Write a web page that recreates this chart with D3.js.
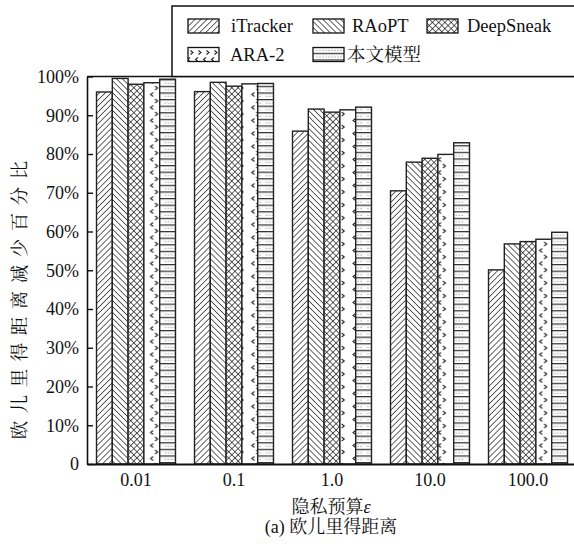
<!DOCTYPE html>
<html>
<head>
<meta charset="utf-8">
<script src="https://cdn.jsdelivr.net/npm/d3@7"></script>
<style>
  html, body { margin: 0; padding: 0; background: #fff; }
  svg { display: block; }
  svg text { font-family: "Liberation Serif", "Noto Serif CJK SC", "Noto Sans CJK SC", serif !important; fill: #111; }
</style>
</head>
<body>
<svg id="chart" width="574" height="546"></svg>
<script>
// Privacy budget groups and the methods compared in each group
const budgets = ["0.01", "0.1", "1.0", "10.0", "100.0"];
const methods = ["iTracker", "RAoPT", "DeepSneak", "ARA-2", "本文模型"];

// Euclidean distance reduction (%) per method, one value per budget
const iTracker  = [96.0, 96.1, 85.9, 70.5, 50.1];
const RAoPT     = [99.5, 98.5, 91.6, 77.9, 56.8];
const DeepSneak = [98.0, 97.5, 90.8, 78.9, 57.4];
const ARA2      = [98.4, 98.1, 91.4, 79.9, 58.0];
const ours      = [99.3, 98.2, 92.1, 82.9, 59.8];

const yTicks = [0, 10, 20, 30, 40, 50, 60, 70, 80, 90, 100];
const yTickLabels = ["0", "10%", "20%", "30%", "40%", "50%", "60%", "70%", "80%", "90%", "100%"];

const seriesValues = [iTracker, RAoPT, DeepSneak, ARA2, ours];

const svg = d3.select("#chart");
const plotL = 87, plotR = 577, plotT = 76.5, plotB = 464;

const x0 = d3.scaleBand().domain(budgets).range([plotL, plotR])
  .paddingInner(0.194).paddingOuter(0.097);
const x1 = d3.scaleBand().domain(methods).range([0, x0.bandwidth()]);
const y = d3.scaleLinear().domain([0, 100]).range([plotB, plotT]);

const defs = svg.append("defs");

// Hatch patterns: diagonal strokes for the first three methods
function linePattern(id, angle, size, cross) {
  const p = defs.append("pattern").attr("id", id)
    .attr("patternUnits", "userSpaceOnUse")
    .attr("width", size).attr("height", size)
    .attr("patternTransform", `rotate(${angle})`);
  p.append("rect").attr("width", size).attr("height", size).attr("fill", "#fff");
  p.append("line").attr("x1", 0).attr("y1", 0).attr("x2", 0).attr("y2", size)
    .attr("stroke", "#111").attr("stroke-width", 1.3);
  if (cross) {
    p.append("line").attr("x1", 0).attr("y1", 0).attr("x2", size).attr("y2", 0)
      .attr("stroke", "#111").attr("stroke-width", 1.3);
  }
}
linePattern("pat0", 45, 4.2, false);
linePattern("pat1", -45, 4.2, false);
linePattern("pat2", 45, 4.4, true);

// Chevron pattern, anchored to a given left edge
function chevronPattern(id, xStart, w, h, xa, xb) {
  const p = defs.append("pattern").attr("id", id)
    .attr("patternUnits", "userSpaceOnUse")
    .attr("x", xStart).attr("y", 0)
    .attr("width", w).attr("height", h);
  p.append("rect").attr("width", w).attr("height", h).attr("fill", "#fff");
  p.append("path").attr("d", `M${xa + 2.5},1.5 L${xa},3.5 L${xa + 2.5},5.5`)
    .attr("fill", "none").attr("stroke", "#222").attr("stroke-width", 1.1);
  p.append("path").attr("d", `M${xb},${h / 2 + 1.5} L${xb + 2.5},${h / 2 + 3.5} L${xb},${h / 2 + 5.5}`)
    .attr("fill", "none").attr("stroke", "#222").attr("stroke-width", 1.1);
}

// Ruled pattern with dotted rows, anchored to a given left edge
function ruledPattern(id, xStart, w) {
  const p = defs.append("pattern").attr("id", id)
    .attr("patternUnits", "userSpaceOnUse")
    .attr("x", xStart).attr("y", 0)
    .attr("width", w).attr("height", 6.6);
  p.append("rect").attr("width", w).attr("height", 6.6).attr("fill", "#fff");
  p.append("rect").attr("x", 0).attr("y", 0).attr("width", w).attr("height", 1.2).attr("fill", "#333");
  p.append("rect").attr("x", 0).attr("y", 1.2).attr("width", w).attr("height", 0.8).attr("fill", "#bbb");
  for (let dx = 3.5; dx < w - 2; dx += 3) {
    p.append("rect").attr("x", dx).attr("y", 3.6).attr("width", 1).attr("height", 1).attr("fill", "#777");
  }
}

budgets.forEach((b, i) => {
  chevronPattern(`pat3_${i}`, x0(b) + x1("ARA-2"), x1.bandwidth(), 13, 5, 9.5);
  ruledPattern(`pat4_${i}`, x0(b) + x1("本文模型"), x1.bandwidth());
});

function fillFor(si, gi) {
  if (si < 3) return `url(#pat${si})`;
  return `url(#pat${si}_${gi})`;
}

// Bars
const groups = svg.append("g").selectAll("g").data(budgets).join("g")
  .attr("transform", d => `translate(${x0(d)},0)`);

groups.selectAll("rect")
  .data((b, gi) => methods.map((m, si) => ({ m, si, gi, v: seriesValues[si][gi] })))
  .join("rect")
  .attr("x", d => x1(d.m))
  .attr("y", d => y(d.v))
  .attr("width", x1.bandwidth())
  .attr("height", d => plotB - y(d.v))
  .attr("fill", d => fillFor(d.si, d.gi))
  .attr("stroke", "#222")
  .attr("stroke-width", 1.4);

// Left axis with inward ticks
const yAxis = d3.axisLeft(y).tickValues(yTicks)
  .tickFormat((d, i) => yTickLabels[i]).tickSizeInner(-6).tickSizeOuter(0).tickPadding(8);
const gy = svg.append("g").attr("transform", `translate(${plotL},0)`).call(yAxis);
gy.attr("font-family", null);
gy.select(".domain").attr("stroke", "#111").attr("stroke-width", 1.6);
gy.selectAll(".tick line").attr("stroke", "#111").attr("stroke-width", 1.4);
gy.selectAll(".tick text").attr("font-size", 18).attr("fill", "#111");

// Bottom axis, labels only
const xAxis = d3.axisBottom(x0).tickSize(0).tickPadding(9);
const gx = svg.append("g").attr("transform", `translate(0,${plotB})`).call(xAxis);
gx.attr("font-family", null);
gx.select(".domain").attr("stroke", "#111").attr("stroke-width", 2.2);
gx.selectAll(".tick text").attr("font-size", 18).attr("fill", "#111");

// Top frame line
svg.append("line").attr("x1", plotL).attr("x2", 574).attr("y1", plotT).attr("y2", plotT)
  .attr("stroke", "#111").attr("stroke-width", 1.5);

// Axis titles
svg.append("text")
  .attr("transform", `translate(20,${(plotT + plotB) / 2 + 26}) rotate(-90)`)
  .attr("text-anchor", "middle").attr("dominant-baseline", "central")
  .attr("font-size", 18.5).attr("letter-spacing", 7.5)
  .text("欧儿里得距离减少百分比");

svg.append("text").attr("x", 331).attr("y", 513).attr("text-anchor", "middle")
  .attr("font-size", 18)
  .html('隐私预算<tspan font-style="italic">ε</tspan>');

svg.append("text").attr("x", 331).attr("y", 533).attr("text-anchor", "middle")
  .attr("font-size", 18)
  .text("(a) 欧儿里得距离");

// Legend
svg.append("rect").attr("x", 172).attr("y", 6).attr("width", 420).attr("height", 70.5)
  .attr("fill", "#fff").attr("stroke", "#111").attr("stroke-width", 1.5);

const legendPos = [
  { sx: 188, ty: 26, tx: 231 },
  { sx: 313, ty: 26, tx: 352 },
  { sx: 427, ty: 26, tx: 467 },
  { sx: 188, ty: 54.5, tx: 230 },
  { sx: 313, ty: 54.5, tx: 347 }
];
methods.forEach((m, si) => {
  const lp = legendPos[si];
  let fill;
  if (si < 3) fill = `url(#pat${si})`;
  else if (si === 3) {
    chevronPattern("leg3", lp.sx - 2, 8, 14, 1.5, 4.5);
    fill = "url(#leg3)";
  } else {
    ruledPattern("leg4", lp.sx, 31);
    fill = "url(#leg4)";
  }
  svg.append("rect").attr("x", lp.sx).attr("y", lp.ty - 7).attr("width", 31).attr("height", 14)
    .attr("fill", fill).attr("stroke", "#111").attr("stroke-width", 1.3);
  svg.append("text").attr("x", lp.tx).attr("y", lp.ty).attr("dominant-baseline", "central")
    .attr("font-size", 18.5).text(m);
});
</script>
</body>
</html>
